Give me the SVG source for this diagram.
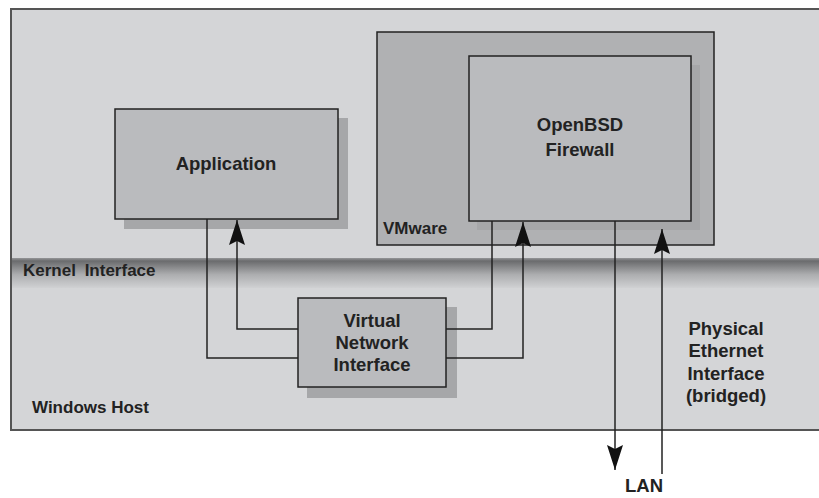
<svg xmlns="http://www.w3.org/2000/svg" width="819" height="498" viewBox="0 0 819 498">
<style>
text{font-family:"Liberation Sans",Arial,sans-serif;font-weight:bold;fill:#222;}
.lbl{font-size:18.5px;text-anchor:middle;}
.sm{font-size:17px;}
.box{fill:#babbbe;stroke:#222;stroke-width:1.5;}
.shadow{fill:#a6a7a9;}
.conn{fill:none;stroke:#222;stroke-width:1.5;}
</style>
<defs>
<linearGradient id="band" x1="0" y1="0" x2="0" y2="1">
<stop offset="0" stop-color="#959698"/>
<stop offset="0.1" stop-color="#6a6b6d"/>
<stop offset="0.55" stop-color="#acadaf"/>
<stop offset="1" stop-color="#d0d1d3"/>
</linearGradient>
<marker id="arr" viewBox="-26 -9 27 18" markerWidth="27" markerHeight="18" refX="0" refY="0" orient="auto" markerUnits="userSpaceOnUse">
<path d="M0,0 L-25,-8 L-21,0 L-25,8 Z" fill="#111"/>
</marker>
</defs>
<g id="windows-host">
<rect x="11" y="9" width="830" height="421" fill="#d4d5d7" stroke="#555" stroke-width="2"/>
<rect x="12" y="258" width="820" height="30" fill="url(#band)"/>
<text class="sm" x="23" y="276" word-spacing="4">Kernel Interface</text>
<text class="sm" x="32" y="413">Windows Host</text>
</g>
<g id="vmware">
<rect x="377" y="32" width="337" height="213" fill="#b0b1b3" stroke="#222" stroke-width="1.5"/>
<text class="sm" x="383" y="234">VMware</text>
</g>
<g id="application">
<rect class="shadow" x="124" y="118" width="224" height="111"/>
<rect class="box" x="115" y="109" width="223" height="110"/>
<text class="lbl" x="226" y="170">Application</text>
</g>
<g id="openbsd">
<rect x="477" y="65" width="223" height="165" fill="#a6a7a9"/>
<rect class="box" x="469" y="56" width="222" height="165"/>
<text class="lbl" x="580" y="131">OpenBSD</text>
<text class="lbl" x="580" y="156">Firewall</text>
</g>
<g id="vni">
<rect class="shadow" x="307" y="307" width="150" height="91"/>
<rect class="box" x="298" y="298" width="148" height="89"/>
<text class="lbl" x="372" y="327">Virtual</text>
<text class="lbl" x="372" y="349">Network</text>
<text class="lbl" x="372" y="371">Interface</text>
</g>
<g id="physical-ethernet">
<text class="lbl" x="726" y="335">Physical</text>
<text class="lbl" x="726" y="357">Ethernet</text>
<text class="lbl" x="726" y="380">Interface</text>
<text class="lbl" x="726" y="402">(bridged)</text>
</g>
<g id="lan">
<text class="lbl" x="644" y="492">LAN</text>
</g>
<g id="connectors">
<path class="conn" d="M207,219 V358 H298"/>
<path class="conn" d="M298,329 H237 V220" marker-end="url(#arr)"/>
<path class="conn" d="M446,329 H492 V221"/>
<path class="conn" d="M446,358 H523 V222" marker-end="url(#arr)"/>
<path class="conn" d="M615,221 V470" marker-end="url(#arr)"/>
<path class="conn" d="M662,474 V229" marker-end="url(#arr)"/>
</g>
</svg>
